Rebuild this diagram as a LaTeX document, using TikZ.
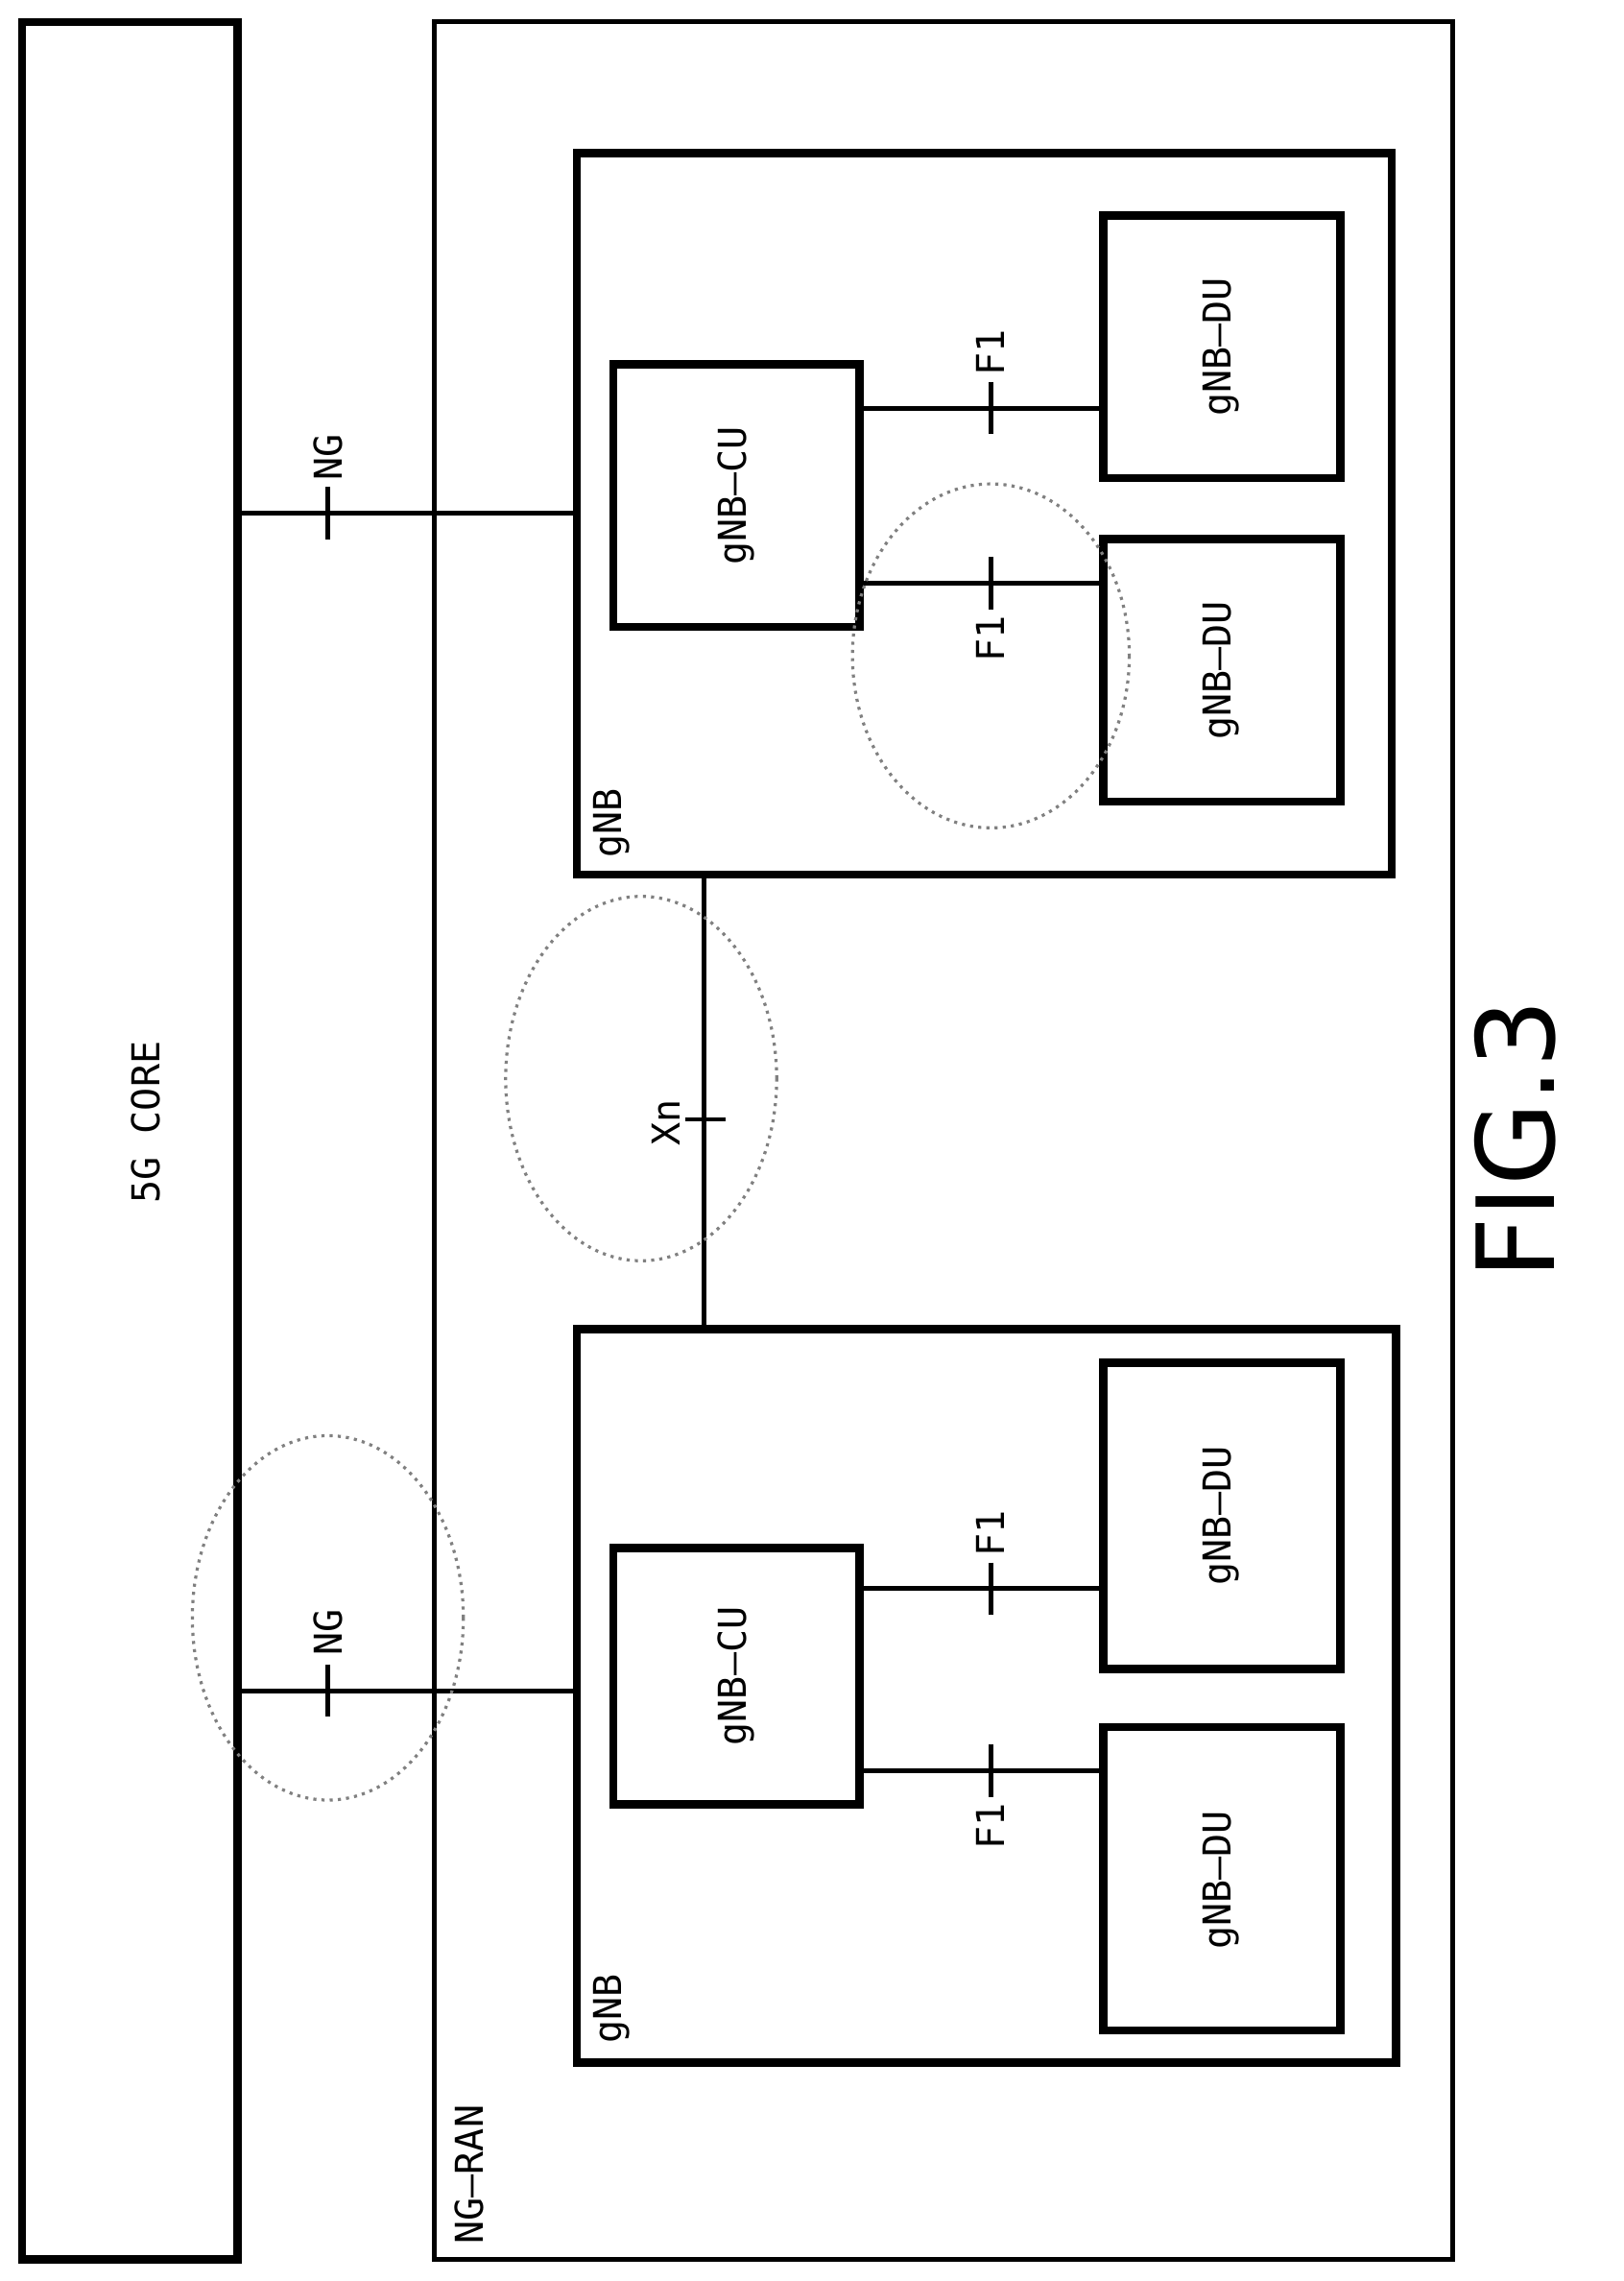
\documentclass[tikz,border=0pt]{standalone}
\usepackage{fontspec}
\setmainfont{DejaVu Sans Mono}
\newfontfamily\figfont{DejaVu Sans}
\begin{document}
\begin{tikzpicture}[x=0.01cm,y=-0.01cm,
  box/.style={draw,line width=1.6pt},
  thin/.style={line width=0.9pt},
  lbl/.style={rotate=90,font=\fontsize{7.5}{9}\selectfont,inner sep=0pt},
  ell/.style={draw=gray,line width=0.6pt,densely dotted}]
\useasboundingbox (0,0) rectangle (1114,1565);
% outer boxes
\draw[box] (15,15) rectangle (163,1550);
\node[lbl] (core) at (100,770) {5G CORE};
\draw[line width=1pt] (298,15) rectangle (997,1550);
\node[lbl] (ran) at (322,1492) {NG—RAN};
% upper gNB
\draw[box] (396,105) rectangle (955,600);
\node[lbl] (g1) at (420,565) {gNB};
\draw[box] (421,250) rectangle (590,430);
\node[lbl] at (505,340) {gNB—CU};
\draw[box] (757,148) rectangle (920,328); \node[lbl] at (838,238) {gNB—DU};
\draw[box] (757,370) rectangle (920,550); \node[lbl] at (838,460) {gNB—DU};
\coordinate (a1) at (590,280); \coordinate (b1) at (757,280);
\draw[thin] (a1) -- (b1); \draw[thin] (680,262) -- (680,298);
\node[lbl] at (680,242) {F1};
\coordinate (a2) at (590,400); \coordinate (b2) at (757,400);
\draw[thin] (a2) -- (b2); \draw[thin] (680,382) -- (680,418);
\node[lbl] at (680,438) {F1};
% NG upper
\coordinate (n1a) at (163,352); \coordinate (n1b) at (396,352);
\draw[thin] (n1a) -- (n1b); \draw[thin] (225,334) -- (225,370);
\node[lbl] at (225,314) {NG};
% lower gNB
\draw[box] (396,912) rectangle (958,1415);
\node[lbl] at (420,1378) {gNB};
\draw[box] (421,1062) rectangle (590,1238); \node[lbl] at (505,1150) {gNB—CU};
\draw[box] (757,935) rectangle (920,1145); \node[lbl] at (838,1040) {gNB—DU};
\draw[box] (757,1185) rectangle (920,1393); \node[lbl] at (838,1290) {gNB—DU};
\coordinate (a3) at (590,1090); \coordinate (b3) at (757,1090);
\draw[thin] (a3) -- (b3); \draw[thin] (680,1072) -- (680,1108);
\node[lbl] at (680,1052) {F1};
\coordinate (a4) at (590,1215); \coordinate (b4) at (757,1215);
\draw[thin] (a4) -- (b4); \draw[thin] (680,1197) -- (680,1233);
\node[lbl] at (680,1253) {F1};
\coordinate (n2a) at (163,1160); \coordinate (n2b) at (396,1160);
\draw[thin] (n2a) -- (n2b); \draw[thin] (225,1142) -- (225,1178);
\node[lbl] at (225,1120) {NG};
% Xn
\coordinate (x1) at (483,600); \coordinate (x2) at (483,912);
\draw[thin] (x1) -- (x2); \draw[thin] (470,768) -- (498,768);
\node[lbl] at (457,770) {Xn};
% ellipses
\draw[ell] (680,450) ellipse (95 and 118);
\draw[ell] (440,740) ellipse (93 and 125);
\draw[ell] (225,1110) ellipse (93 and 125);
% caption
\node[rotate=90,font=\figfont\fontsize{21}{23}\selectfont,inner sep=0] (fig) at (1040,782) {FIG.3};
\end{tikzpicture}
\end{document}
